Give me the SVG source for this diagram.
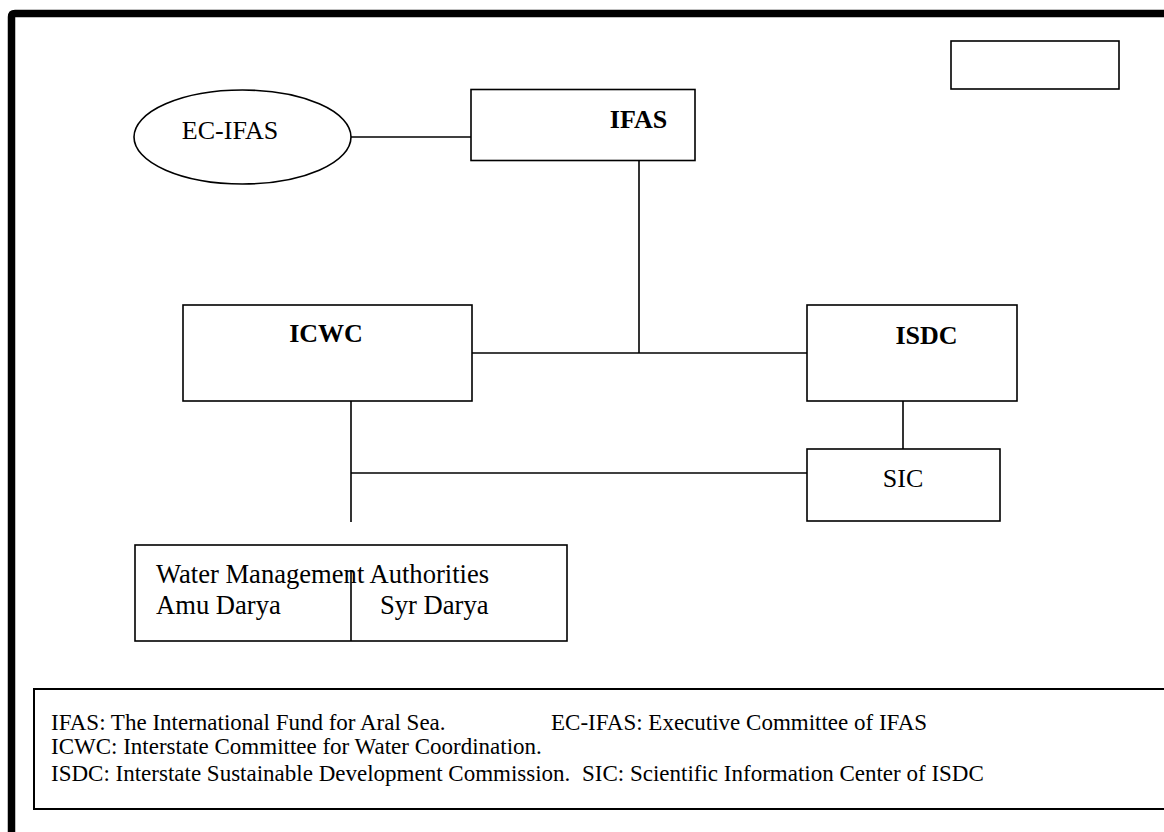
<svg xmlns="http://www.w3.org/2000/svg" width="1164" height="832" viewBox="0 0 1164 832">
<style>
.box{fill:#fff;stroke:#000;stroke-width:1.6}
.ln{stroke:#000;stroke-width:1.6;fill:none}
.t{font-family:"Liberation Serif","Times New Roman",serif;fill:#000}
.big{font-size:26px}
.bold{font-weight:bold}
.leg{font-size:23px}
</style>
<rect x="0" y="0" width="1164" height="832" fill="#fff"/>
<path d="M11.5,840 V17 Q11.5,13.5 15,13.5 H1170" fill="none" stroke="#000" stroke-width="7.5"/>
<g id="blank-box"><rect class="box" x="951" y="41" width="168" height="48"/></g>
<g id="connectors">
<line class="ln" x1="351" y1="137" x2="471" y2="137"/>
<line class="ln" x1="639" y1="161" x2="639" y2="353"/>
<line class="ln" x1="472" y1="353" x2="807" y2="353"/>
<line class="ln" x1="903" y1="401" x2="903" y2="449"/>
<line class="ln" x1="351" y1="401" x2="351" y2="522"/>
<line class="ln" x1="351" y1="473" x2="807" y2="473"/>
</g>
<g id="ec-ifas"><ellipse class="box" cx="242.5" cy="137" rx="108.5" ry="47"/><text class="t big" x="230" y="139" text-anchor="middle">EC-IFAS</text></g>
<g id="ifas"><rect class="box" x="471" y="89.5" width="224" height="71"/><text class="t big bold" x="638.5" y="128" text-anchor="middle">IFAS</text></g>
<g id="icwc"><rect class="box" x="183" y="305" width="289" height="96"/><text class="t big bold" x="326" y="342" text-anchor="middle">ICWC</text></g>
<g id="isdc"><rect class="box" x="807" y="305" width="210" height="96"/><text class="t big bold" x="926.5" y="344" text-anchor="middle">ISDC</text></g>
<g id="sic"><rect class="box" x="807" y="449" width="193" height="72"/><text class="t big" x="903" y="487" text-anchor="middle">SIC</text></g>
<g id="wma">
<rect class="box" x="135" y="545" width="432" height="96"/>
<line class="ln" x1="351" y1="570" x2="351" y2="641"/>
<text class="t" font-size="26.6" x="156" y="583">Water Management Authorities</text>
<text class="t" font-size="26.6" x="156" y="614">Amu Darya</text>
<text class="t" font-size="26.6" x="380" y="614">Syr Darya</text>
</g>
<g id="legend">
<rect x="34" y="689" width="1140" height="120" fill="#fff" stroke="#000" stroke-width="2"/>
<text class="t leg" x="51" y="730">IFAS: The International Fund for Aral Sea.</text>
<text class="t leg" x="551" y="730">EC-IFAS: Executive Committee of IFAS</text>
<text class="t leg" x="51" y="754">ICWC: Interstate Committee for Water Coordination.</text>
<text class="t leg" x="51" y="781">ISDC: Interstate Sustainable Development Commission.</text>
<text class="t leg" x="582" y="781">SIC: Scientific Information Center of ISDC</text>
</g>
</svg>
